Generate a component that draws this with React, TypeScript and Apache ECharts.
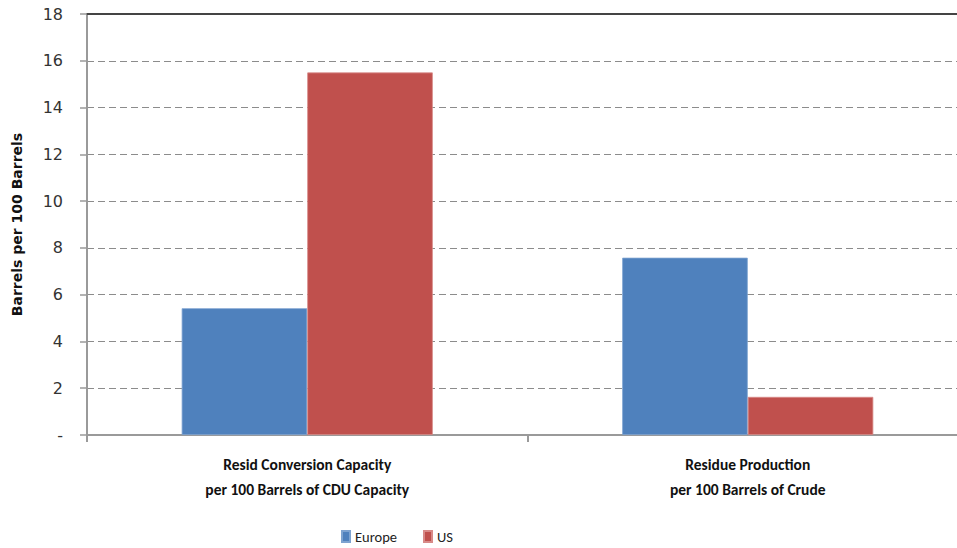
import React, { useEffect, useRef } from "react";
import * as echarts from "echarts";

const categories = [
  "Resid Conversion Capacity\nper 100 Barrels of CDU Capacity",
  "Residue Production\nper 100 Barrels of Crude",
];
const europe = [5.42, 7.58];
const us = [15.5, 1.63];
const yTicks = [0, 2, 4, 6, 8, 10, 12, 14, 16, 18];

const FONT = "Carlito, 'Liberation Sans Narrow', 'DejaVu Sans Condensed', 'Noto Sans', sans-serif";
const FONT_V = "'DejaVu Sans', Verdana, sans-serif";

export default function App() {
  const ref = useRef<HTMLDivElement>(null);
  useEffect(() => {
    if (!ref.current) return;
    const chart = echarts.init(ref.current, undefined, { renderer: "svg" });
    chart.setOption({
      animation: false,
      backgroundColor: "#ffffff",
      textStyle: { fontFamily: FONT },
      grid: { left: 87, top: 14, width: 881, height: 421, outerBoundsMode: "none", containLabel: false },
      legend: {
        data: ["Europe", "US"],
        left: 336,
        top: 524,
        itemWidth: 8,
        itemHeight: 11,
        itemGap: 26,
        icon: "rect",
        textStyle: { fontSize: 14.5, color: "#222", fontFamily: FONT },
      },
      xAxis: [
        {
          type: "category",
          data: categories,
          axisLine: { lineStyle: { color: "#9a9a9a", width: 2 } },
          axisTick: { show: true, length: 7, lineStyle: { color: "#9a9a9a", width: 2 } },
          axisLabel: {
            fontSize: 15.5,
            fontWeight: "bold",
            color: "#111",
            lineHeight: 25,
            margin: 17,
            fontFamily: FONT,
          },
        },
        {
          type: "category",
          position: "top",
          data: categories,
          axisLine: { show: true, lineStyle: { color: "#444", width: 2 } },
          axisTick: { show: false },
          axisLabel: { show: false },
        },
      ],
      yAxis: {
        type: "value",
        min: yTicks[0],
        max: yTicks[yTicks.length - 1],
        interval: 2,
        name: "Barrels per 100 Barrels",
        nameLocation: "middle",
        nameGap: 63,
        nameTextStyle: { fontSize: 14, fontWeight: "bold", color: "#111", fontFamily: FONT_V },
        axisLine: { show: true, lineStyle: { color: "#9a9a9a", width: 2 } },
        axisTick: { show: true, length: 7, lineStyle: { color: "#9a9a9a", width: 1.5 } },
        axisLabel: {
          fontSize: 16,
          color: "#333",
          margin: 24,
          fontFamily: FONT_V,
          formatter: (v: number) => (v === 0 ? "-" : String(v)),
        },
        splitLine: {
          show: true,
          lineStyle: { color: "#8c8c8c", type: [7, 4], width: 1.2 },
        },
      },
      series: [
        {
          name: "Europe",
          type: "bar",
          data: europe,
          barGap: "0%",
          barCategoryGap: "43%",
          itemStyle: { color: "#4F81BD", borderColor: "#7ea3d0", borderWidth: 0.8 },
        },
        {
          name: "US",
          type: "bar",
          data: us,
          itemStyle: { color: "#C0504D", borderColor: "#d88a88", borderWidth: 0.8 },
        },
      ],
    });
    return () => chart.dispose();
  }, []);
  return (
    <div
      ref={ref}
      style={{ position: "fixed", left: 0, top: 0, width: 957, height: 548, overflow: "hidden" }}
    />
  );
}
